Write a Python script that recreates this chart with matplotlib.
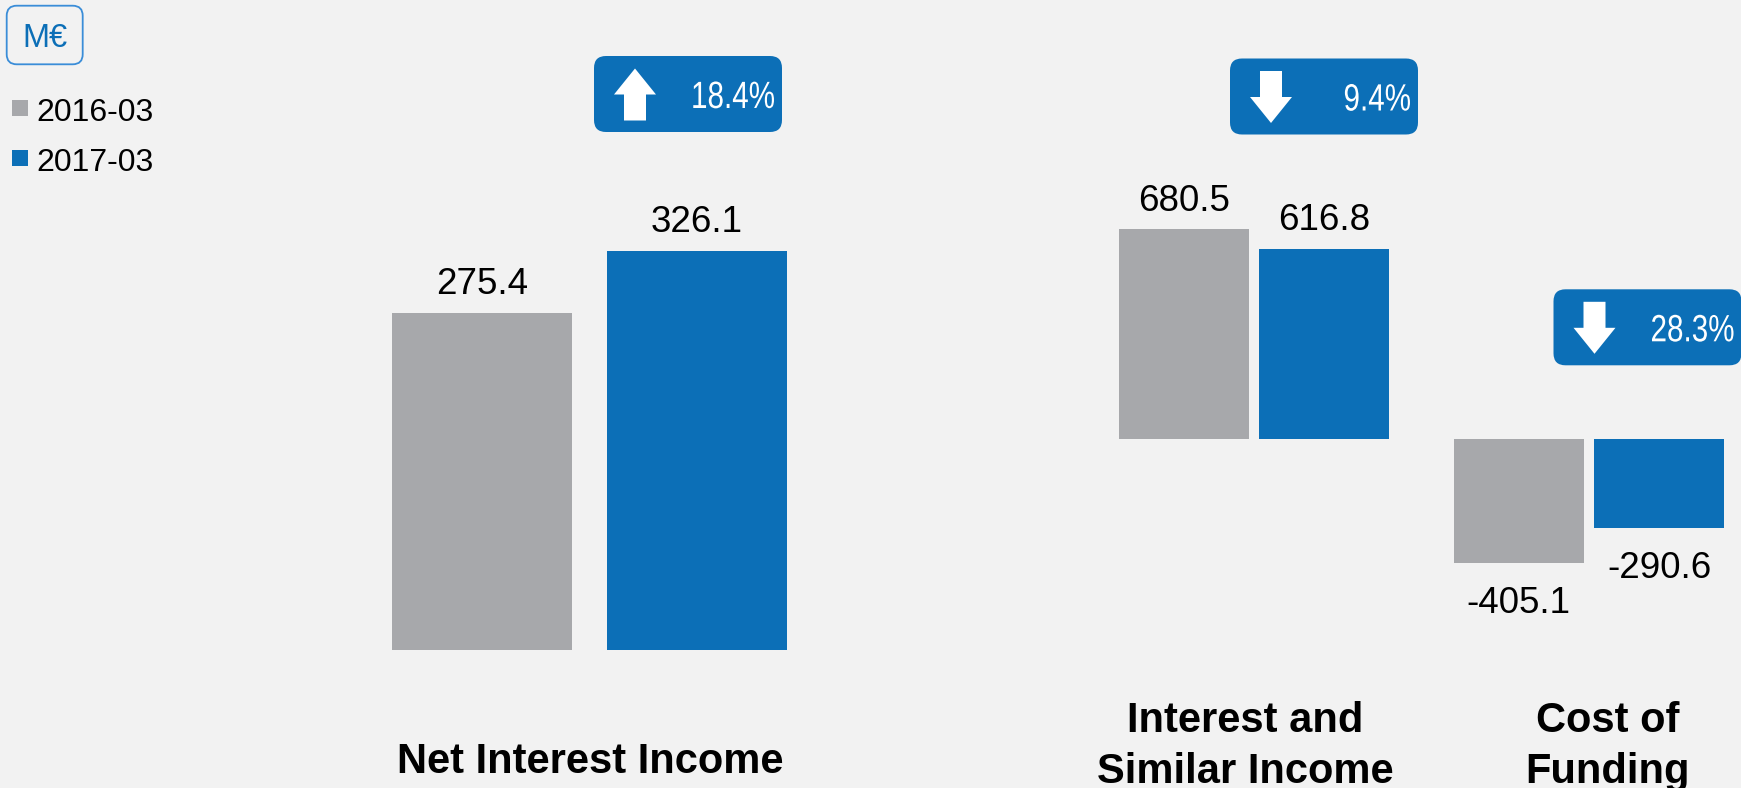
import matplotlib
matplotlib.use("Agg")
import matplotlib.pyplot as plt
from matplotlib.patches import FancyBboxPatch, Rectangle, Polygon, PathPatch
from matplotlib.textpath import TextPath
from matplotlib.font_manager import FontProperties
from matplotlib.transforms import Affine2D

plt.rcParams["font.family"] = ["Liberation Sans", "DejaVu Sans"]

# values in M€
periods = ["2016-03", "2017-03"]
nii_label = "Net Interest Income"
nii_values = [275.4, 326.1]

split_labels = ["Interest and\nSimilar Income", "Cost of\nFunding"]
split_2016 = [680.5, -405.1]
split_2017 = [616.8, -290.6]

GRAY = "#a7a8ab"
BLUE = "#0c6fb7"
BG = "#f2f2f2"
W, H = 1741, 788

fig = plt.figure(figsize=(W / 100, H / 100), dpi=100, facecolor=BG)


def px_axes(x0, x1, y_top, y_bottom):
    # pixel box measured from the top-left corner -> figure fraction
    ax = fig.add_axes([x0 / W, (H - y_bottom) / H, (x1 - x0) / W, (y_bottom - y_top) / H])
    ax.set_axis_off()
    ax.patch.set_visible(False)
    return ax


def value_labels(ax, xs, vals):
    for x, v in zip(xs, vals):
        off = 13.5 if v >= 0 else -36
        ax.annotate(f"{v:.1f}", (x, v), xytext=(0, off), textcoords="offset points",
                    ha="center", va="baseline", fontsize=26.5, color="black")


# left panel: net interest income
ax1 = px_axes(374.5, 804.5, 650 - 400 * 1.2237, 650)
ax1.set_xlim(-0.5, 1.5)
ax1.set_ylim(0, 400)
ax1.bar([0, 1], nii_values, width=0.833, color=[GRAY, BLUE])
value_labels(ax1, [0, 1], nii_values)

# right panel: income and cost of funding
ax2 = px_axes(1069.75, 1739.75, 438.7 - 800 * 0.3077, 438.7 + 500 * 0.3077)
ax2.set_xlim(-0.55, 1.45)
ax2.set_ylim(-500, 800)
xs = [0, 1]
ax2.bar([x - 0.21 for x in xs], split_2016, width=0.388, color=GRAY)
ax2.bar([x + 0.21 for x in xs], split_2017, width=0.388, color=BLUE)
value_labels(ax2, [x - 0.21 for x in xs], split_2016)
value_labels(ax2, [x + 0.21 for x in xs], split_2017)

# overlay in pixel coordinates for badges, legend and captions
ov = fig.add_axes([0, 0, 1, 1])
ov.set_xlim(0, W)
ov.set_ylim(H, 0)
ov.set_axis_off()
ov.patch.set_visible(False)

narrow = FontProperties(family="Liberation Sans")


def narrow_text(x_right, y_base, s, size_px=38, squeeze=0.78):
    # condensed, right-aligned text drawn as a path
    tp = TextPath((0, 0), s, size=size_px, prop=narrow)
    ext = tp.get_extents()
    tr = Affine2D().translate(-ext.x1, 0).scale(squeeze, -1).translate(x_right, y_base)
    ov.add_patch(PathPatch(tr.transform_path(tp), facecolor="white", edgecolor="none"))


def badge(x0, y0, old, new):
    change = (abs(new) - abs(old)) / abs(old) * 100
    ov.add_patch(FancyBboxPatch((x0, y0), 188, 76, boxstyle="round,pad=0,rounding_size=12",
                                facecolor=BLUE, edgecolor="none"))
    cx = x0 + 41
    if change >= 0:
        pts = [(cx - 11, y0 + 64.5), (cx - 11, y0 + 38.5), (cx - 21, y0 + 38.5), (cx, y0 + 12.5),
               (cx + 21, y0 + 38.5), (cx + 11, y0 + 38.5), (cx + 11, y0 + 64.5)]
    else:
        pts = [(cx - 11, y0 + 12.5), (cx - 11, y0 + 38.5), (cx - 21, y0 + 38.5), (cx, y0 + 64.5),
               (cx + 21, y0 + 38.5), (cx + 11, y0 + 38.5), (cx + 11, y0 + 12.5)]
    ov.add_patch(Polygon(pts, closed=True, facecolor="white", edgecolor="none"))
    narrow_text(x0 + 180, y0 + 52, f"{abs(change):.1f}%")


badge(594, 56, nii_values[0], nii_values[1])
badge(1230, 58.5, split_2016[0], split_2017[0])
badge(1553.5, 289.3, split_2016[1], split_2017[1])

# unit tag and legend
ov.add_patch(FancyBboxPatch((6.7, 5.7), 76, 58.6, boxstyle="round,pad=0,rounding_size=10",
                            facecolor="none", edgecolor="#3a8dd8", lw=1.3))
ov.text(44.8, 46.7, "M€", ha="center", va="baseline", fontsize=23.5, color=BLUE)
for (y, c), p in zip([(100, GRAY), (150, BLUE)], periods):
    ov.add_patch(Rectangle((12, y), 16, 16, facecolor=c, edgecolor="none"))
    ov.text(36, y + 20.5, p, ha="left", va="baseline", fontsize=23, color="black")

# category captions
ov.text(590, 772.7, nii_label, ha="center", va="baseline", fontsize=30, fontweight="bold")
for cx, lab in zip([1245, 1608], split_labels):
    for i, line in enumerate(lab.split("\n")):
        ov.text(cx, 732.3 + 51 * i, line, ha="center", va="baseline",
                fontsize=30, fontweight="bold")

fig.savefig("out.png", dpi=100, facecolor=BG)
